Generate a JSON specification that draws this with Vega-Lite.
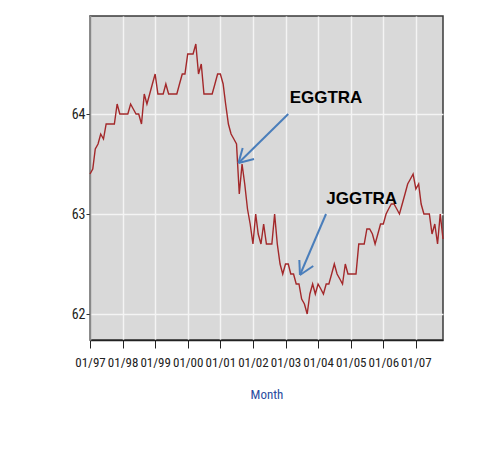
{
  "$schema": "https://vega.github.io/schema/vega-lite/v6.json",
  "width": 353,
  "height": 324,
  "autosize": {"type": "none"},
  "padding": {"left": 90, "top": 16, "right": 46, "bottom": 131},
  "background": "white",
  "config": {
    "view": {"fill": "#d9d9d9", "stroke": "#3a3a3a", "strokeWidth": 1.5}
  },
  "datasets": {
    "series": [
      {"date": "1997-01-01", "v": 63.4}, {"date": "1997-02-01", "v": 63.45}, {"date": "1997-03-01", "v": 63.65}, {"date": "1997-04-01", "v": 63.7},
      {"date": "1997-05-01", "v": 63.8}, {"date": "1997-06-01", "v": 63.75}, {"date": "1997-07-01", "v": 63.9}, {"date": "1997-08-01", "v": 63.9},
      {"date": "1997-09-01", "v": 63.9}, {"date": "1997-10-01", "v": 63.9}, {"date": "1997-11-01", "v": 64.1}, {"date": "1997-12-01", "v": 64.0},
      {"date": "1998-01-01", "v": 64.0}, {"date": "1998-02-01", "v": 64.0}, {"date": "1998-03-01", "v": 64.0}, {"date": "1998-04-01", "v": 64.1},
      {"date": "1998-05-01", "v": 64.05}, {"date": "1998-06-01", "v": 64.0}, {"date": "1998-07-01", "v": 64.0}, {"date": "1998-08-01", "v": 63.9},
      {"date": "1998-09-01", "v": 64.2}, {"date": "1998-10-01", "v": 64.1}, {"date": "1998-11-01", "v": 64.2}, {"date": "1998-12-01", "v": 64.3},
      {"date": "1999-01-01", "v": 64.4}, {"date": "1999-02-01", "v": 64.2}, {"date": "1999-03-01", "v": 64.2}, {"date": "1999-04-01", "v": 64.2},
      {"date": "1999-05-01", "v": 64.3}, {"date": "1999-06-01", "v": 64.2}, {"date": "1999-07-01", "v": 64.2}, {"date": "1999-08-01", "v": 64.2},
      {"date": "1999-09-01", "v": 64.2}, {"date": "1999-10-01", "v": 64.3}, {"date": "1999-11-01", "v": 64.4}, {"date": "1999-12-01", "v": 64.4},
      {"date": "2000-01-01", "v": 64.6}, {"date": "2000-02-01", "v": 64.6}, {"date": "2000-03-01", "v": 64.6}, {"date": "2000-04-01", "v": 64.7},
      {"date": "2000-05-01", "v": 64.4}, {"date": "2000-06-01", "v": 64.5}, {"date": "2000-07-01", "v": 64.2}, {"date": "2000-08-01", "v": 64.2},
      {"date": "2000-09-01", "v": 64.2}, {"date": "2000-10-01", "v": 64.2}, {"date": "2000-11-01", "v": 64.3}, {"date": "2000-12-01", "v": 64.4},
      {"date": "2001-01-01", "v": 64.4}, {"date": "2001-02-01", "v": 64.3}, {"date": "2001-03-01", "v": 64.1}, {"date": "2001-04-01", "v": 63.9},
      {"date": "2001-05-01", "v": 63.8}, {"date": "2001-06-01", "v": 63.75}, {"date": "2001-07-01", "v": 63.7}, {"date": "2001-08-01", "v": 63.2},
      {"date": "2001-09-01", "v": 63.5}, {"date": "2001-10-01", "v": 63.3}, {"date": "2001-11-01", "v": 63.05}, {"date": "2001-12-01", "v": 62.9},
      {"date": "2002-01-01", "v": 62.7}, {"date": "2002-02-01", "v": 63.0}, {"date": "2002-03-01", "v": 62.8}, {"date": "2002-04-01", "v": 62.7},
      {"date": "2002-05-01", "v": 62.9}, {"date": "2002-06-01", "v": 62.7}, {"date": "2002-07-01", "v": 62.7}, {"date": "2002-08-01", "v": 62.7},
      {"date": "2002-09-01", "v": 63.0}, {"date": "2002-10-01", "v": 62.7}, {"date": "2002-11-01", "v": 62.5}, {"date": "2002-12-01", "v": 62.4},
      {"date": "2003-01-01", "v": 62.5}, {"date": "2003-02-01", "v": 62.5}, {"date": "2003-03-01", "v": 62.4}, {"date": "2003-04-01", "v": 62.4},
      {"date": "2003-05-01", "v": 62.3}, {"date": "2003-06-01", "v": 62.3}, {"date": "2003-07-01", "v": 62.15}, {"date": "2003-08-01", "v": 62.1},
      {"date": "2003-09-01", "v": 62.0}, {"date": "2003-10-01", "v": 62.2}, {"date": "2003-11-01", "v": 62.3}, {"date": "2003-12-01", "v": 62.2},
      {"date": "2004-01-01", "v": 62.3}, {"date": "2004-02-01", "v": 62.25}, {"date": "2004-03-01", "v": 62.2}, {"date": "2004-04-01", "v": 62.3},
      {"date": "2004-05-01", "v": 62.3}, {"date": "2004-06-01", "v": 62.4}, {"date": "2004-07-01", "v": 62.5}, {"date": "2004-08-01", "v": 62.4},
      {"date": "2004-09-01", "v": 62.35}, {"date": "2004-10-01", "v": 62.3}, {"date": "2004-11-01", "v": 62.5}, {"date": "2004-12-01", "v": 62.4},
      {"date": "2005-01-01", "v": 62.4}, {"date": "2005-02-01", "v": 62.4}, {"date": "2005-03-01", "v": 62.4}, {"date": "2005-04-01", "v": 62.7},
      {"date": "2005-05-01", "v": 62.7}, {"date": "2005-06-01", "v": 62.7}, {"date": "2005-07-01", "v": 62.85}, {"date": "2005-08-01", "v": 62.85},
      {"date": "2005-09-01", "v": 62.8}, {"date": "2005-10-01", "v": 62.7}, {"date": "2005-11-01", "v": 62.8}, {"date": "2005-12-01", "v": 62.9},
      {"date": "2006-01-01", "v": 62.9}, {"date": "2006-02-01", "v": 63.0}, {"date": "2006-03-01", "v": 63.05}, {"date": "2006-04-01", "v": 63.1},
      {"date": "2006-05-01", "v": 63.1}, {"date": "2006-06-01", "v": 63.05}, {"date": "2006-07-01", "v": 63.0}, {"date": "2006-08-01", "v": 63.1},
      {"date": "2006-09-01", "v": 63.2}, {"date": "2006-10-01", "v": 63.3}, {"date": "2006-11-01", "v": 63.35}, {"date": "2006-12-01", "v": 63.4},
      {"date": "2007-01-01", "v": 63.25}, {"date": "2007-02-01", "v": 63.3}, {"date": "2007-03-01", "v": 63.1}, {"date": "2007-04-01", "v": 63.0},
      {"date": "2007-05-01", "v": 63.0}, {"date": "2007-06-01", "v": 63.0}, {"date": "2007-07-01", "v": 62.8}, {"date": "2007-08-01", "v": 62.9},
      {"date": "2007-09-01", "v": 62.7}, {"date": "2007-10-01", "v": 63.0}, {"date": "2007-11-01", "v": 62.75}
    ],
    "arrows": [
      {"date": "2003-02-01", "v": 64.0, "date2": "2001-07-23", "v2": 63.51},
      {"date": "2001-09-08", "v": 63.66, "date2": "2001-07-23", "v2": 63.51},
      {"date": "2002-01-13", "v": 63.55, "date2": "2001-07-23", "v2": 63.51},
      {"date": "2004-03-30", "v": 63.0, "date2": "2003-06-12", "v2": 62.39},
      {"date": "2003-06-05", "v": 62.54, "date2": "2003-06-12", "v2": 62.39},
      {"date": "2003-11-08", "v": 62.48, "date2": "2003-06-12", "v2": 62.39}
    ],
    "labels": [
      {"date": "2004-03-30", "v": 64.16, "label": "EGGTRA"},
      {"date": "2005-05-04", "v": 63.15, "label": "JGGTRA"}
    ]
  },
  "encoding": {
    "x": {
      "field": "date",
      "type": "temporal",
      "scale": {
        "type": "utc",
        "domain": [
          {"year": 1997, "month": 1, "date": 1, "utc": true},
          {"year": 2007, "month": 11, "date": 1, "utc": true}
        ]
      },
      "axis": {
        "title": "Month",
        "titleColor": "#2a4ba0",
        "titleFont": "Liberation Sans Narrow, Roboto Condensed, DejaVu Sans Condensed, Liberation Sans",
        "titleFontSize": 13,
        "titleFontWeight": "normal",
        "titlePadding": 19,
        "format": "%m/%y",
        "tickCount": {"interval": "year", "step": 1},
        "labelAngle": 0,
        "labelFlush": false,
        "labelBound": false,
        "labelFont": "Liberation Sans Narrow, Roboto Condensed, DejaVu Sans Condensed, Liberation Sans",
        "labelFontSize": 13,
        "labelColor": "#222",
        "labelPadding": 8,
        "labelOverlap": false,
        "tickSize": 8,
        "tickColor": "#222",
        "domainColor": "#222",
        "domainWidth": 1.5,
        "grid": true,
        "gridColor": "#f4f4f4",
        "gridWidth": 1.5
      }
    },
    "y": {
      "field": "v",
      "type": "quantitative",
      "scale": {"domain": [61.74, 64.98], "nice": false, "zero": false},
      "axis": {
        "title": null,
        "values": [62, 63, 64],
        "format": "d",
        "labelFont": "Liberation Sans Narrow, Roboto Condensed, DejaVu Sans Condensed, Liberation Sans",
        "labelFontSize": 14,
        "labelColor": "#222",
        "labelPadding": 1,
        "tickSize": 4,
        "tickColor": "#333",
        "domainColor": "#888",
        "domainWidth": 1.5,
        "grid": true,
        "gridColor": "#f4f4f4",
        "gridWidth": 1.5
      }
    }
  },
  "layer": [
    {
      "data": {"name": "series"},
      "mark": {"type": "line", "color": "#a3282a", "strokeWidth": 1.4}
    },
    {
      "data": {"name": "arrows"},
      "mark": {"type": "rule", "color": "#4a7ebb", "strokeWidth": 2},
      "encoding": {
        "x2": {"field": "date2"},
        "y2": {"field": "v2"}
      }
    },
    {
      "data": {"name": "labels"},
      "mark": {"type": "text", "font": "Liberation Sans", "fontWeight": "bold", "fontSize": 17, "color": "black", "align": "center", "baseline": "middle"},
      "encoding": {
        "text": {"field": "label"}
      }
    }
  ]
}
